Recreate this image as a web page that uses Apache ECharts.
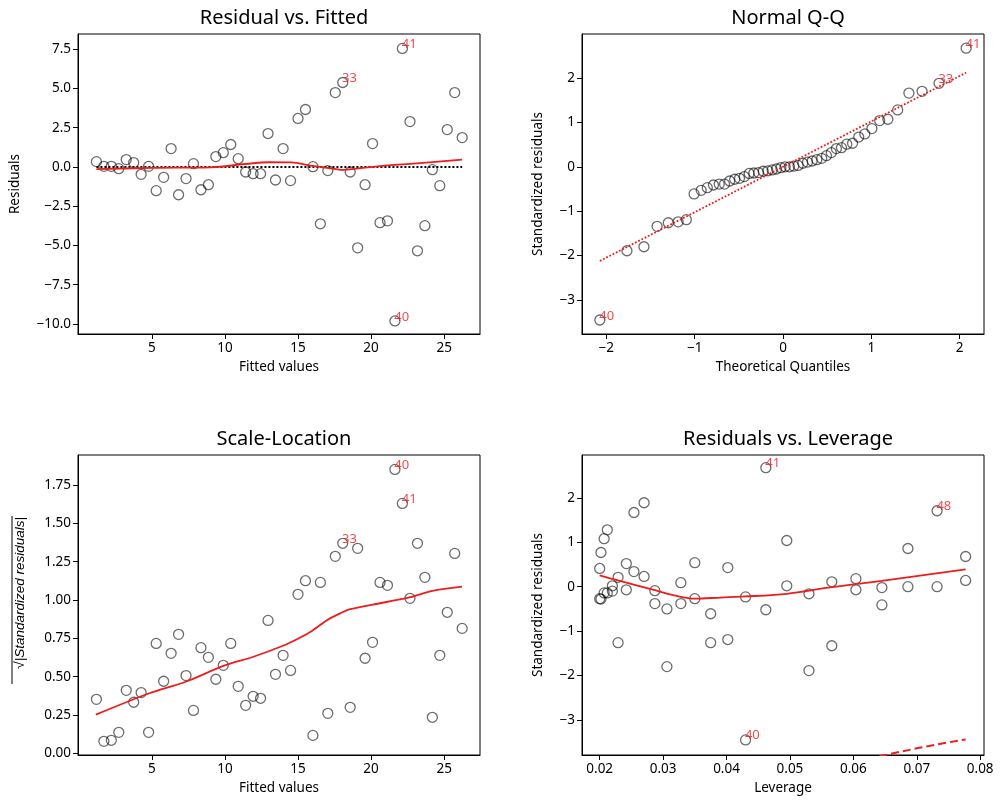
<!DOCTYPE html>
<html>
<head>
<meta charset="utf-8">
<script src="https://cdn.jsdelivr.net/npm/echarts@6/dist/echarts.min.js"></script>
<style>
html, body { margin: 0; padding: 0; background: #fff; }
#container { width: 1005px; height: 806px; }
</style>
</head>
<body>
<div id="container"></div>
<script>
// fitted values (shared by panel 1 and 3), in observation order
var fitted = [1.21, 1.72, 2.23, 2.74, 3.25, 3.76, 4.27, 4.78, 5.30, 5.81,
    6.32, 6.83, 7.34, 7.85, 8.36, 8.87, 9.38, 9.89, 10.40, 10.91,
    11.42, 11.93, 12.44, 12.95, 13.46, 13.98, 14.49, 15.00, 15.51, 16.02,
    16.53, 17.04, 17.55, 18.06, 18.57, 19.08, 19.59, 20.10, 20.61, 21.12,
    21.63, 22.14, 22.66, 23.17, 23.68, 24.19, 24.70, 25.21, 25.72, 26.23];
var residuals = [0.34, 0.04, 0.04, -0.11, 0.47, 0.28, -0.47, 0.04, -1.51, -0.66,
    1.17, -1.77, -0.74, 0.21, -1.45, -1.13, 0.66, 0.91, 1.43, 0.53,
    -0.32, -0.43, -0.43, 2.13, -0.83, 1.17, -0.87, 3.09, 3.66, 0.02,
    -3.62, -0.23, 4.74, 5.38, -0.32, -5.15, -1.13, 1.49, -3.55, -3.43,
    -9.81, 7.55, 2.89, -5.34, -3.74, -0.17, -1.19, 2.38, 4.74, 1.87];
var sqrtStdResid = [0.352, 0.078, 0.085, 0.137, 0.411, 0.333, 0.396, 0.137, 0.717, 0.470,
    0.652, 0.776, 0.507, 0.280, 0.689, 0.626, 0.483, 0.574, 0.717, 0.437,
    0.313, 0.372, 0.359, 0.867, 0.515, 0.639, 0.541, 1.037, 1.126, 0.117,
    1.115, 0.261, 1.285, 1.370, 0.300, 1.337, 0.620, 0.724, 1.115, 1.096,
    1.852, 1.630, 1.011, 1.370, 1.148, 0.235, 0.639, 0.920, 1.304, 0.815];
var leverage = [0.0777, 0.0732, 0.0686, 0.0645, 0.0604, 0.0566, 0.0530, 0.0495, 0.0462, 0.0430,
    0.0402, 0.0375, 0.0350, 0.0328, 0.0306, 0.0287, 0.0270, 0.0254, 0.0242, 0.0229,
    0.0220, 0.0212, 0.0207, 0.0202, 0.0200, 0.0200, 0.0202, 0.0207, 0.0212, 0.0220,
    0.0229, 0.0242, 0.0254, 0.0270, 0.0287, 0.0306, 0.0328, 0.0350, 0.0375, 0.0402,
    0.0430, 0.0462, 0.0495, 0.0530, 0.0566, 0.0604, 0.0645, 0.0686, 0.0732, 0.0777];
var stdResid = [0.14, 0.00, 0.00, -0.02, 0.18, 0.11, -0.16, 0.02, -0.52, -0.23,
    0.43, -0.61, -0.27, 0.09, -0.50, -0.38, 0.23, 0.34, 0.52, 0.21,
    -0.10, -0.14, -0.14, 0.77, -0.27, 0.41, -0.28, 1.08, 1.28, 0.02,
    -1.26, -0.07, 1.67, 1.89, -0.09, -1.80, -0.38, 0.54, -1.26, -1.19,
    -3.45, 2.68, 1.04, -1.89, -1.33, -0.07, -0.41, 0.86, 1.71, 0.68];

// Q-Q (sorted)
var qqTheo = [-2.073, -1.766, -1.574, -1.425, -1.298, -1.187, -1.094, -1.006, -0.926, -0.857,
    -0.787, -0.722, -0.662, -0.604, -0.547, -0.492, -0.438, -0.383, -0.330, -0.277,
    -0.224, -0.171, -0.122, -0.073, -0.024, 0.024, 0.073, 0.122, 0.171, 0.224,
    0.277, 0.330, 0.383, 0.438, 0.492, 0.547, 0.604, 0.662, 0.722, 0.787,
    0.857, 0.926, 1.006, 1.094, 1.187, 1.298, 1.425, 1.574, 1.766, 2.073];
var qqSample = [-3.45, -1.89, -1.80, -1.34, -1.26, -1.24, -1.19, -0.61, -0.53, -0.47,
    -0.41, -0.39, -0.39, -0.32, -0.28, -0.26, -0.22, -0.15, -0.14, -0.13,
    -0.10, -0.09, -0.07, -0.05, -0.02, 0.00, 0.00, 0.015, 0.03, 0.08,
    0.105, 0.13, 0.16, 0.19, 0.25, 0.32, 0.41, 0.43, 0.51, 0.53,
    0.67, 0.74, 0.86, 1.04, 1.07, 1.28, 1.66, 1.70, 1.88, 2.67];
var qqLineX = [-2.073, 2.073];
var qqLineY = [-2.12, 2.12];

// lowess curves
var lowess1X = [1.21, 5.0, 9.0, 11.4, 13.0, 14.5, 16.0, 17.5, 18.1, 19.0, 20.6, 22.9, 26.23];
var lowess1Y = [-0.14, -0.06, -0.02, 0.19, 0.30, 0.29, 0.07, -0.12, -0.19, -0.10, 0.06, 0.21, 0.47];
var lowess3X = [1.17, 4.79, 7.32, 9.9, 11.95, 13.93, 14.96, 15.98, 17.0, 18.04, 18.56, 20.11, 22.62, 24.19, 26.22];
var lowess3Y = [0.252, 0.39, 0.467, 0.57, 0.63, 0.70, 0.746, 0.80, 0.87, 0.92, 0.94, 0.97, 1.017, 1.06, 1.087];
var lowess4X = [0.0200, 0.0229, 0.0287, 0.0328, 0.0350, 0.0375, 0.0430, 0.0495, 0.0566, 0.0645, 0.0777];
var lowess4Y = [0.255, 0.14, -0.08, -0.23, -0.27, -0.255, -0.22, -0.16, -0.01, 0.13, 0.39];
// cook's distance 0.5 contour (only lower part visible)
var cookX = [0.0641, 0.0670, 0.0700, 0.0740, 0.0777];
var cookY = [-3.82, -3.73, -3.64, -3.53, -3.44];

// tick values
var ticksFitted = [5, 10, 15, 20, 25];
var ticksResid = [-10, -7.5, -5, -2.5, 0, 2.5, 5, 7.5];
var ticksQQ = [-2, -1, 0, 1, 2];
var ticksStd = [-3, -2, -1, 0, 1, 2];
var ticksSqrt = [0, 0.25, 0.5, 0.75, 1, 1.25, 1.5, 1.75];
var ticksLev = [0.02, 0.03, 0.04, 0.05, 0.06, 0.07, 0.08];

var FONT = '"Noto Sans", "DejaVu Sans", sans-serif';
var RED = '#ee1c1c';
var TICK_SIZE = 13.5;
var NAME_SIZE = 13.5;

function minus(s) { return s.replace('-', '\u2212'); }

function axis(gi, min, max, ticks, dec, name, gap) {
    return {
        type: 'value', gridIndex: gi, min: min, max: max,
        name: name, nameLocation: 'middle', nameGap: gap,
        nameTextStyle: { fontSize: NAME_SIZE, color: '#000', fontFamily: FONT },
        axisLine: { show: true, onZero: false, lineStyle: { color: '#000', width: 1 } },
        axisTick: { show: true, length: 5, customValues: ticks, lineStyle: { color: '#000', width: 1 } },
        axisLabel: {
            customValues: ticks, fontSize: TICK_SIZE, color: '#000', fontFamily: FONT, margin: 7,
            formatter: function (v) { return minus(Number(v).toFixed(dec)); }
        },
        splitLine: { show: false }
    };
}

function pairs(xs, ys) {
    var out = [];
    for (var i = 0; i < xs.length; i++) out.push([xs[i], ys[i]]);
    return out;
}

function points(xs, ys, labels) {
    var out = [];
    for (var i = 0; i < xs.length; i++) {
        var item = { value: [xs[i], ys[i]] };
        if (labels[i] !== undefined) {
            item.label = {
                show: true, formatter: labels[i], position: [5, 8],
                align: 'left', verticalAlign: 'bottom',
                color: RED, fontSize: 13, fontFamily: FONT
            };
        }
        out.push(item);
    }
    return out;
}

function scatter(gi, data) {
    return {
        type: 'scatter', xAxisIndex: gi, yAxisIndex: gi, data: data,
        symbol: 'circle', symbolSize: 10, z: 2,
        itemStyle: { color: 'rgba(0,0,0,0)', borderColor: 'rgba(0,0,0,0.72)', borderWidth: 1.3 }
    };
}

function line(gi, data, color, type, width, smooth) {
    return {
        type: 'line', xAxisIndex: gi, yAxisIndex: gi, data: data,
        showSymbol: false, symbol: 'none', smooth: smooth, z: 3,
        lineStyle: { color: color, type: type, width: width }
    };
}

var dom = document.getElementById('container');
var myChart = echarts.init(dom);

var boxes = [
    { left: 78, top: 34 },
    { left: 582, top: 34 },
    { left: 78, top: 455 },
    { left: 582, top: 455 }
];
var grids = [];
for (var g = 0; g < boxes.length; g++) {
    grids.push({
        left: boxes[g].left, top: boxes[g].top, width: 402, height: 300,
        show: true, borderColor: '#000', borderWidth: 1, backgroundColor: '#fff'
    });
}

var titles = ['Residual vs. Fitted', 'Normal Q-Q', 'Scale-Location', 'Residuals vs. Leverage'];
var titleOpts = [];
for (var t = 0; t < titles.length; t++) {
    titleOpts.push({
        text: titles[t], left: boxes[t].left + 201, top: boxes[t].top - 31, textAlign: 'center',
        textStyle: { fontSize: 20, fontWeight: 'normal', color: '#000', fontFamily: FONT }
    });
}

var option = {
    animation: false,
    backgroundColor: '#fff',
    textStyle: { fontFamily: FONT },
    title: titleOpts,
    grid: grids,
    xAxis: [
        axis(0, -0.05, 27.45, ticksFitted, 0, 'Fitted values', 26),
        axis(1, -2.275, 2.275, ticksQQ, 0, 'Theoretical Quantiles', 26),
        axis(2, -0.05, 27.45, ticksFitted, 0, 'Fitted values', 26),
        axis(3, 0.01721, 0.0806, ticksLev, 2, 'Leverage', 26)
    ],
    yAxis: [
        axis(0, -10.64, 8.47, ticksResid, 1, 'Residuals', 56),
        axis(1, -3.765, 2.99, ticksStd, 0, 'Standardized residuals', 37),
        axis(2, -0.011, 1.946, ticksSqrt, 2, '', 51),
        axis(3, -3.79, 2.965, ticksStd, 0, 'Standardized residuals', 37)
    ],
    series: [
        scatter(0, points(fitted, residuals, { 33: '33', 40: '40', 41: '41' })),
        line(0, [[fitted[0], 0], [fitted[fitted.length - 1], 0]], '#000', 'dotted', 2, false),
        line(0, pairs(lowess1X, lowess1Y), RED, 'solid', 1.8, 0.4),

        scatter(1, points(qqTheo, qqSample, { 0: '40', 48: '33', 49: '41' })),
        line(1, pairs(qqLineX, qqLineY), RED, 'dotted', 1.8, false),

        scatter(2, points(fitted, sqrtStdResid, { 33: '33', 40: '40', 41: '41' })),
        line(2, pairs(lowess3X, lowess3Y), RED, 'solid', 1.8, 0.3),

        scatter(3, points(leverage, stdResid, { 40: '40', 41: '41', 48: '48' })),
        line(3, pairs(lowess4X, lowess4Y), RED, 'solid', 1.8, 0.3),
        line(3, pairs(cookX, cookY), RED, 'dashed', 2, false)
    ],
    graphic: [
        {
            type: 'text', left: 13, top: 517, rotation: Math.PI / 2,
            style: {
                text: '{n|\u221a}{i||Standardized residuals|}',
                fill: '#000', fontFamily: FONT,
                rich: { n: { fontSize: NAME_SIZE }, i: { fontSize: NAME_SIZE, fontStyle: 'italic' } }
            }
        },
        {
            // overline of the square-root sign
            type: 'line', shape: { x1: 12, y1: 516, x2: 12, y2: 684 },
            style: { stroke: '#000', lineWidth: 1 }
        }
    ]
};

if (option && typeof option === "object") {
    myChart.setOption(option, true);
}
</script>
</body>
</html>
